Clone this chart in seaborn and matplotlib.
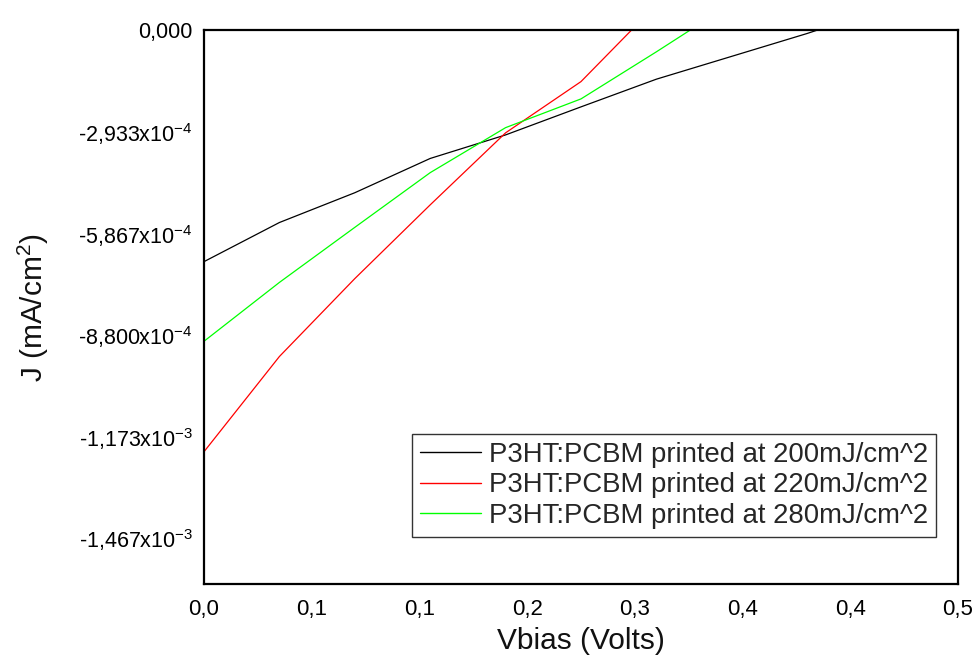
import numpy as np
import pandas as pd
import matplotlib
matplotlib.use("Agg")
import matplotlib.pyplot as plt
import seaborn as sns
from matplotlib.ticker import FixedLocator

sns.set_theme(style="white")
plt.rcParams['font.family'] = ['Liberation Sans', 'DejaVu Sans']
plt.rcParams['mathtext.fontset'] = 'custom'
plt.rcParams['mathtext.rm'] = 'Liberation Sans'

# Data
vbias = [0.00, 0.05, 0.10, 0.15, 0.20, 0.25, 0.30, 0.35, 0.40, 0.45]
j_200 = [-6.69e-4, -5.56e-4, -4.70e-4, -3.71e-4, -3.03e-4, -2.22e-4, -1.42e-4, -0.76e-4, -0.10e-4, 0.62e-4]
vbias_220 = [0.00, 0.05, 0.10, 0.15, 0.20, 0.25, 0.30]
j_220 = [-1.218e-3, -9.43e-4, -7.18e-4, -5.05e-4, -2.97e-4, -1.49e-4, 0.73e-4]
vbias_280 = [0.00, 0.05, 0.10, 0.15, 0.20, 0.25, 0.30, 0.35]
j_280 = [-8.99e-4, -7.29e-4, -5.70e-4, -4.12e-4, -2.82e-4, -1.99e-4, -0.63e-4, 0.77e-4]
labels = ["P3HT:PCBM printed at 200mJ/cm^2",
          "P3HT:PCBM printed at 220mJ/cm^2",
          "P3HT:PCBM printed at 280mJ/cm^2"]
colors = ["#000000", "#ff0000", "#00ff00"]

x_ticks = [0, 0.5/7, 1/7, 1.5/7, 2/7, 2.5/7, 3/7, 0.5]
x_ticklabels = ["0,0", "0,1", "0,1", "0,2", "0,3", "0,4", "0,4", "0,5"]
y_ticks = [0, -2.9333e-4, -5.8667e-4, -8.8e-4, -1.17333e-3, -1.46667e-3]
y_ticklabels = ["0,000", r"-2,933x10$^{-4}$", r"-5,867x10$^{-4}$", r"-8,800x10$^{-4}$",
                r"-1,173x10$^{-3}$", r"-1,467x10$^{-3}$"]

df = pd.concat([
    pd.DataFrame({"V": vbias, "J": j_200, "series": labels[0]}),
    pd.DataFrame({"V": vbias_220, "J": j_220, "series": labels[1]}),
    pd.DataFrame({"V": vbias_280, "J": j_280, "series": labels[2]}),
], ignore_index=True)

fig = plt.figure(figsize=(9.76, 6.6), dpi=100)
ax = fig.add_axes([204/976, 1-584/660, (958-204)/976, (584-30)/660])

sns.lineplot(data=df, x="V", y="J", hue="series", palette=dict(zip(labels, colors)),
             linewidth=0.9, ax=ax, sort=False, estimator=None)

ax.set_xlim(0, 0.5)
ax.set_ylim(-1.6e-3, 0)
ax.xaxis.set_major_locator(FixedLocator(x_ticks))
ax.set_xticklabels(x_ticklabels)
ax.yaxis.set_major_locator(FixedLocator(y_ticks))
ax.set_yticklabels(y_ticklabels)
ax.tick_params(axis='both', direction='in', length=6, width=1.5, colors='black', pad=8)
ax.tick_params(axis='y', labelsize=15.5)
ax.tick_params(axis='x', labelsize=16, pad=11)
for s in ax.spines.values():
    s.set_visible(True)
    s.set_color('black')
    s.set_linewidth(1.6)

ax.set_xlabel("Vbias (Volts)", fontsize=21.5, labelpad=5, color='#111111')
ax.set_ylabel(r"J (mA/cm$^2$)", fontsize=21.5, labelpad=20, color='#111111')

handles, lbls = ax.get_legend_handles_labels()
leg = ax.legend(handles, lbls, loc='lower right', bbox_to_anchor=(0.971, 0.0848),
                borderaxespad=0, fontsize=19.8, frameon=True, fancybox=False,
                edgecolor='#333333', framealpha=1, labelspacing=0.16,
                handlelength=2.2, handletextpad=0.3, borderpad=0.3)
leg.get_frame().set_linewidth(1.0)
for h in leg.get_lines():
    h.set_linewidth(1.0)

fig.savefig("out.png", dpi=100)
